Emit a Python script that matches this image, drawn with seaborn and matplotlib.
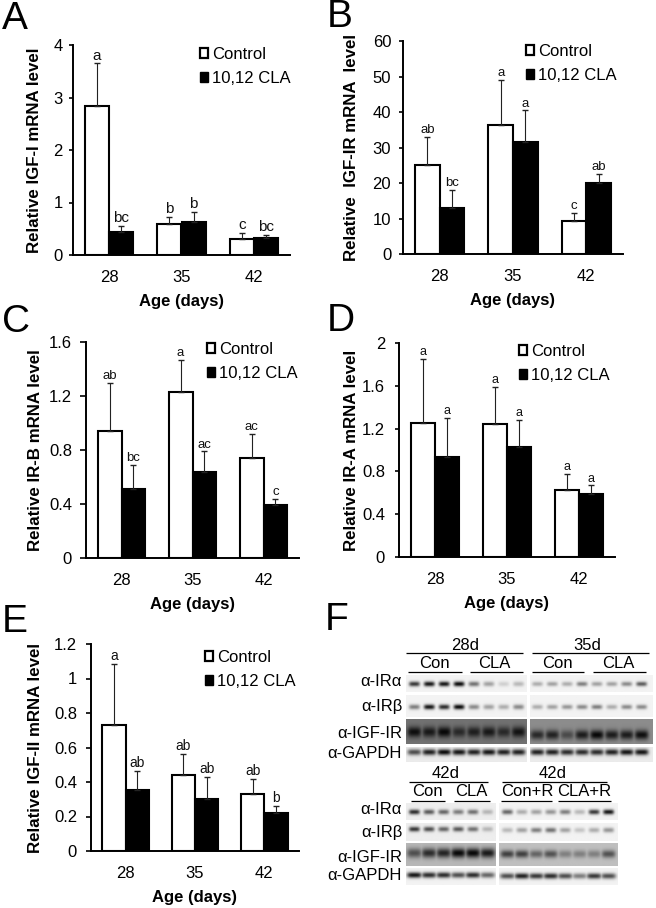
#!/usr/bin/env python3
# -*- coding: utf-8 -*-
import numpy as np
import pandas as pd
import matplotlib
matplotlib.use('Agg')
import matplotlib.pyplot as plt
from matplotlib.patches import Patch
import seaborn as sns

sns.set_theme(style='white')
plt.rcParams['font.family'] = ['Liberation Sans', 'DejaVu Sans']

W, H = 656, 908

ages = ['28', '35', '42']
groups = ['Control', '10,12 CLA']

# bar values, upper error limits, significance letters: control then CLA
igf1_ctrl = [2.84, 0.60, 0.30]
igf1_cla = [0.44, 0.63, 0.33]
igf1_ctrl_top = [3.65, 0.73, 0.42]
igf1_cla_top = [0.55, 0.82, 0.38]
igf1_letters = ['a', 'b', 'c', 'bc', 'b', 'bc']
igf1_ticks = [0, 1, 2, 3, 4]

igf1r_ctrl = [25, 36.3, 9.2]
igf1r_cla = [13, 31.5, 20]
igf1r_ctrl_top = [33, 49, 11.5]
igf1r_cla_top = [18, 40.5, 22.5]
igf1r_letters = ['ab', 'a', 'c', 'bc', 'a', 'ab']
igf1r_ticks = [0, 10, 20, 30, 40, 50, 60]

irb_ctrl = [0.94, 1.23, 0.74]
irb_cla = [0.51, 0.64, 0.39]
irb_ctrl_top = [1.30, 1.47, 0.92]
irb_cla_top = [0.69, 0.79, 0.44]
irb_letters = ['ab', 'a', 'ac', 'bc', 'ac', 'c']
irb_ticks = [0, 0.4, 0.8, 1.2, 1.6]

ira_ctrl = [1.25, 1.24, 0.63]
ira_cla = [0.93, 1.03, 0.59]
ira_ctrl_top = [1.85, 1.59, 0.78]
ira_cla_top = [1.30, 1.28, 0.67]
ira_letters = ['a', 'a', 'a', 'a', 'a', 'a']
ira_ticks = [0, 0.4, 0.8, 1.2, 1.6, 2]

igf2_ctrl = [0.73, 0.44, 0.33]
igf2_cla = [0.355, 0.30, 0.22]
igf2_ctrl_top = [1.085, 0.565, 0.42]
igf2_cla_top = [0.465, 0.43, 0.26]
igf2_letters = ['a', 'ab', 'ab', 'ab', 'ab', 'b']
igf2_ticks = [0, 0.2, 0.4, 0.6, 0.8, 1, 1.2]

# band strength per lane, read by eye from the blots
up_ira_l = [.8, .95, .95, 1, .55, .35, .15, .25]
up_ira_r = [.3, .35, .3, .5, .35, .35, .45, .65]
up_irb_l = [.5, .95, .85, 1, .45, .35, .3, .45]
up_irb_r = [.3, .35, .4, .45, .5, .3, .45, .45]
up_igf_l = [.95, .85, 1, .7, .8, .85, .7, .9]
up_igf_r = [.75, .8, .5, .85, 1, .85, .85, .95]
up_gap_l = [.7, .9, 1, .95, .9, .95, .9, .9]
up_gap_r = [.9, .9, .85, .85, .85, .9, .95, .95]
lo_ira_l = [.85, .65, .6, .5, .55, .25]
lo_ira_r = [.6, .3, .35, .4, .5, .25, .8, .95]
lo_irb_l = [.8, .7, .6, .65, .55, .25]
lo_irb_r = [.25, .35, .5, .55, .35, .2, .3, .4]
lo_igf_l = [.6, .8, .85, 1, 1, .9]
lo_igf_r = [.7, .7, .5, .6, .35, .35, .35, .6]
lo_gap_l = [.95, .85, .85, .7, .85, .6]
lo_gap_r = [.7, .9, .8, .85, .7, .5, .8, .7]


def make_axes(fig, left, right, top, bottom):
    return fig.add_axes([left / W, 1 - bottom / H, (right - left) / W, (bottom - top) / H])


def bar_panel(fig, box, ylabel, ctrl, cla, ctrl_top, cla_top, letters, ticks, ymax,
              label_x, legend_xy, letter_size=10.5, tick_len=3, tick_pad=5):
    ax = make_axes(fig, *box)
    df = pd.DataFrame({'Age': ages * 2,
                       'Group': [groups[0]] * 3 + [groups[1]] * 3,
                       'Value': ctrl + cla})
    sns.barplot(data=df, x='Age', y='Value', hue='Group', order=ages, hue_order=groups,
                palette=['white', 'black'], edgecolor='black', linewidth=1.5,
                width=0.67, gap=0, saturation=1, legend=False, ax=ax)
    tops = ctrl_top + cla_top
    values = ctrl + cla
    bars = [b for c in ax.containers for b in c]
    for bar, val, top, let in zip(bars, values, tops, letters):
        xc = bar.get_x() + bar.get_width() / 2
        ax.errorbar(xc, val, yerr=[[0], [top - val]], color='#222222', elinewidth=0.8,
                    capsize=2.4, capthick=1.0, zorder=1)
        ax.annotate(let, (xc, top), xytext=(0, 0.5), textcoords='offset points',
                    ha='center', va='bottom', fontsize=letter_size, color='#111111')
    ax.set_xlim(-0.5, 2.5)
    ax.set_ylim(0, ymax)
    ax.set_yticks(ticks)
    ax.set_yticklabels([str(t) for t in ticks])
    sns.despine(ax=ax)
    for s in ['left', 'bottom']:
        ax.spines[s].set_linewidth(1.4)
        ax.spines[s].set_color('black')
    ax.tick_params(axis='y', left=True, length=tick_len, width=1.2, pad=tick_pad, labelsize=12,
                   colors='black')
    ax.tick_params(axis='x', bottom=False, length=0, pad=10.5, labelsize=12, colors='black')
    ax.set_ylabel(ylabel, fontsize=12.2, fontweight='bold', color='black', va='center')
    ax.set_xlabel('Age (days)', fontsize=12, fontweight='bold', color='black', labelpad=7)
    ax.yaxis.set_label_coords((label_x - box[0]) / (box[1] - box[0]), 0.5)
    handles = [Patch(facecolor='white', edgecolor='black', linewidth=1.6),
               Patch(facecolor='black', edgecolor='black', linewidth=1.0)]
    ax.legend(handles, groups, loc='upper left',
              bbox_to_anchor=(legend_xy[0] / W, 1 - legend_xy[1] / H),
              bbox_transform=fig.transFigure, frameon=False, fontsize=12,
              borderpad=0, borderaxespad=0, handlelength=0.5, handleheight=0.5,
              handletextpad=0.2, labelspacing=0.53, labelcolor='black')
    return ax


def blot(ax, x0, x1, y0, y1, lane_first, lane_last, band_y, levels, bg, sigma_y, sigma_x=5.5):
    xs = np.arange(x0, x1 + 1)
    ys = np.arange(y0, y1 + 1)
    gx, gy = np.meshgrid(xs, ys)
    dark = np.zeros_like(gx, dtype=float)
    for lane, lev in zip(np.linspace(lane_first, lane_last, len(levels)), levels):
        prof = np.exp(-((gx - lane) / sigma_x) ** 4) * np.exp(-((gy - band_y) / sigma_y) ** 2)
        dark = np.maximum(dark, lev * prof)
    img = bg - dark * (bg - 0.03)
    ax.imshow(img, cmap='gray', vmin=0, vmax=1, extent=(x0, x1, y1, y0),
              interpolation='bilinear', aspect='auto', zorder=2)


fig = plt.figure(figsize=(W / 100, H / 100), dpi=100, facecolor='white')

bar_panel(fig, (73, 290, 45, 255), 'Relative IGF-I mRNA level', igf1_ctrl, igf1_cla,
          igf1_ctrl_top, igf1_cla_top, igf1_letters, igf1_ticks, 4, 35, (200, 47), 11, 3, 4.5)
bar_panel(fig, (403, 623, 41, 254), 'Relative  IGF-IR mRNA  level', igf1r_ctrl, igf1r_cla,
          igf1r_ctrl_top, igf1r_cla_top, igf1r_letters, igf1r_ticks, 60, 351, (526, 44), 9.5, 3, 5.5)
bar_panel(fig, (86, 299, 342, 558), 'Relative IR-B mRNA level', irb_ctrl, irb_cla,
          irb_ctrl_top, irb_cla_top, irb_letters, irb_ticks, 1.6, 36, (207, 342), 9.5, 4.5, 5.5)
bar_panel(fig, (399, 615, 343, 557), 'Relative IR-A mRNA level', ira_ctrl, ira_cla,
          ira_ctrl_top, ira_cla_top, ira_letters, ira_ticks, 2, 351, (519, 344), 9, 3, 7)
bar_panel(fig, (91, 299, 644, 851), 'Relative IGF-II mRNA level', igf2_ctrl, igf2_cla,
          igf2_ctrl_top, igf2_cla_top, igf2_letters, igf2_ticks, 1.2, 35, (205, 650), 10, 3.5, 6.5)

# full-figure layer in pixel coordinates for panel letters and the blot panel
ov = fig.add_axes([0, 0, 1, 1], facecolor='none')
ov.set_xlim(0, W)
ov.set_ylim(H, 0)
ov.axis('off')

for let, x, y in [('A', 2, 19), ('B', 327, 17), ('C', 2, 322), ('D', 327, 321),
                  ('E', 2, 622), ('F', 325, 620)]:
    ov.text(x, y, let, fontsize=28, ha='left', va='center', color='black')

# upper blots
blot(ov, 406, 527, 675, 692, 414, 519, 684, up_ira_l, 0.95, 2.6)
blot(ov, 530, 653, 675, 692, 537, 642, 684, up_ira_r, 0.95, 2.4)
blot(ov, 406, 527, 695, 717, 414, 519, 707, up_irb_l, 0.95, 2.6)
blot(ov, 530, 653, 695, 717, 537, 642, 707, up_irb_r, 0.95, 2.4)
blot(ov, 406, 527, 719, 744, 414, 519, 732, up_igf_l, 0.45, 5.5, 7)
blot(ov, 530, 653, 719, 744, 537, 642, 735, up_igf_r, 0.55, 5, 7)
blot(ov, 406, 527, 747, 762, 414, 519, 752, up_gap_l, 0.92, 3.2, 7)
blot(ov, 530, 653, 747, 762, 537, 642, 752, up_gap_r, 0.92, 3.2, 7)
# lower blots
blot(ov, 406, 496, 803, 820, 414, 488, 812, lo_ira_l, 0.93, 2.6)
blot(ov, 499, 618, 803, 820, 507, 609, 812, lo_ira_r, 0.95, 2.6)
blot(ov, 406, 496, 823, 841, 414, 488, 829, lo_irb_l, 0.93, 2.6)
blot(ov, 499, 618, 823, 841, 507, 609, 830, lo_irb_r, 0.95, 2.6)
blot(ov, 406, 496, 843, 866, 414, 488, 853, lo_igf_l, 0.72, 5, 7.5)
blot(ov, 499, 618, 843, 866, 507, 609, 854, lo_igf_r, 0.75, 4, 7)
blot(ov, 406, 496, 868, 885, 414, 488, 875, lo_gap_l, 0.95, 3, 7.5)
blot(ov, 499, 618, 868, 885, 507, 609, 876, lo_gap_r, 0.95, 3, 7.5)

for lab, y in [('α-IRα', 682), ('α-IRβ', 707), ('α-IGF-IR', 734), ('α-GAPDH', 754),
               ('α-IRα', 809), ('α-IRβ', 832), ('α-IGF-IR', 857), ('α-GAPDH', 876)]:
    ov.text(402, y, lab, fontsize=12, ha='right', va='center', color='black')

heads = [('28d', 465, 645, 406, 523, 653), ('35d', 587, 645, 532, 649, 653),
         ('Con', 434, 664, 408, 462, 672), ('CLA', 494, 664, 470, 523, 672),
         ('Con', 557, 664, 532, 584, 672), ('CLA', 618, 664, 593, 646, 672),
         ('42d', 446, 774, 409, 488, 782), ('42d', 553, 774, 502, 607, 782),
         ('Con', 427, 792, 411, 445, 801), ('CLA', 471, 792, 454, 490, 801),
         ('Con+R', 527, 792, 501, 552, 801), ('CLA+R', 584, 792, 558, 611, 801)]
for lab, x, y, l0, l1, ly in heads:
    ov.text(x, y, lab, fontsize=12, ha='center', va='center', color='black')
    ov.plot([l0, l1], [ly, ly], color='black', lw=0.9, solid_capstyle='butt')

plt.savefig('out.png', dpi=100)
